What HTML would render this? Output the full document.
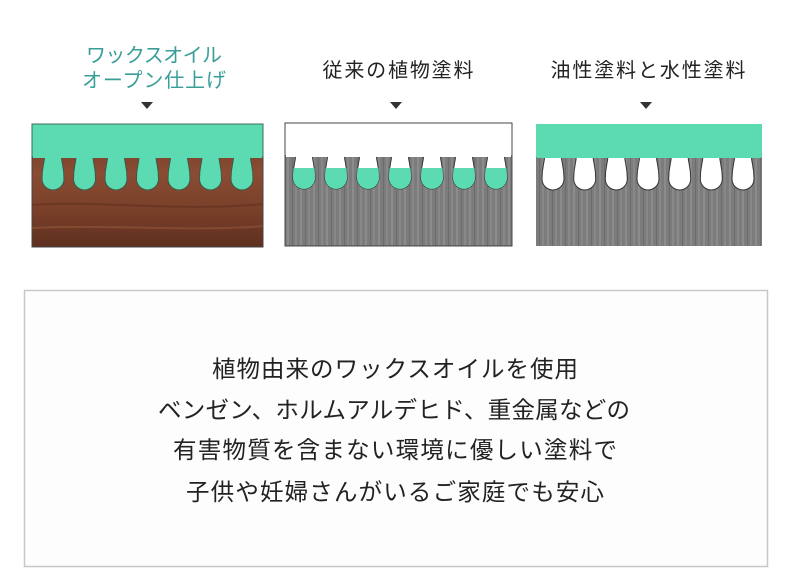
<!DOCTYPE html>
<html><head><meta charset="utf-8"><style>
html,body{margin:0;padding:0;background:#fff;}
svg{display:block;}
text{font-family:"Liberation Sans","Noto Sans CJK JP",sans-serif;}
</style></head><body>
<svg width="790" height="577" viewBox="0 0 790 577" xmlns="http://www.w3.org/2000/svg">
<defs>
<linearGradient id="brown" x1="0" y1="0" x2="0" y2="1">
<stop offset="0" stop-color="#6e3a26"/><stop offset="0.4" stop-color="#8a4c33"/><stop offset="0.7" stop-color="#7a4029"/><stop offset="1" stop-color="#5e2f1f"/>
</linearGradient>
<pattern id="grain" width="13" height="40" patternUnits="userSpaceOnUse">
<rect width="13" height="40" fill="#7c7c7c"/>
<rect x="1" width="2" height="40" fill="#8c8c8c"/>
<rect x="6" width="1" height="40" fill="#6c6c6c"/>
<rect x="9" width="2" height="40" fill="#888"/>
</pattern>
<path id="pore" d="M-8.5,157 C-8.5,163 -11,166 -11,179 A11,11 0 0 0 11,179 C11,166 8.5,163 8.5,157 Z"/>
<clipPath id="c2"><rect x="285" y="168" width="228" height="30"/></clipPath>
</defs>

<g font-size="20" text-anchor="middle">
<text x="154" y="62" fill="#3a9e98" textLength="136">ワックスオイル</text>
<text x="154" y="87" fill="#3a9e98" textLength="144">オープン仕上げ</text>
<text x="398" y="77" fill="#222" textLength="151">従来の植物塗料</text>
<text x="648" y="77" fill="#222" textLength="195">油性塗料と水性塗料</text>
</g>
<polygon points="141,102 153,102 147,109" fill="#333"/>
<polygon points="390,102 402,102 396,109" fill="#333"/>
<polygon points="640,102 652,102 646,109" fill="#333"/>

<!-- panel 1 -->
<rect x="32" y="124" width="231" height="123" fill="url(#brown)" stroke="#444" stroke-width="1"/>
<path d="M32,205 C90,200 180,212 263,204" stroke="#5a2c1c" stroke-width="2" fill="none" opacity="0.5"/>
<path d="M32,228 C100,224 200,232 263,226" stroke="#9a5a3d" stroke-width="2" fill="none" opacity="0.5"/>
<rect x="32" y="124" width="231" height="33" fill="#5cdbb2" stroke="#3d6b5c" stroke-width="1"/>
<g fill="#5cdbb2" stroke="#3d5a4a" stroke-width="1">
<use href="#pore" x="53"/><use href="#pore" x="84.5"/><use href="#pore" x="116"/><use href="#pore" x="147.5"/><use href="#pore" x="179"/><use href="#pore" x="210.5"/><use href="#pore" x="242"/>
</g>
<rect x="33" y="156" width="229" height="2" fill="#5cdbb2"/>

<!-- panel 2 -->
<rect x="285" y="156" width="227" height="90" fill="url(#grain)" stroke="#444"/>
<rect x="285" y="123" width="227" height="33" fill="#fff" stroke="#444"/>
<g fill="#fff" stroke="#333" stroke-width="1">
<use href="#pore" x="304" y="-1"/><use href="#pore" x="336" y="-1"/><use href="#pore" x="368" y="-1"/><use href="#pore" x="400" y="-1"/><use href="#pore" x="432" y="-1"/><use href="#pore" x="464" y="-1"/><use href="#pore" x="496" y="-1"/>
</g>
<g fill="#5cdbb2" clip-path="url(#c2)">
<use href="#pore" x="304" y="-1"/><use href="#pore" x="336" y="-1"/><use href="#pore" x="368" y="-1"/><use href="#pore" x="400" y="-1"/><use href="#pore" x="432" y="-1"/><use href="#pore" x="464" y="-1"/><use href="#pore" x="496" y="-1"/>
</g>
<rect x="286" y="155" width="225" height="2" fill="#fff"/>

<!-- panel 3 -->
<rect x="536" y="157" width="226" height="89" fill="url(#grain)"/>
<rect x="536" y="124" width="226" height="33" fill="#5cdbb2"/>
<g fill="#fff" stroke="#333" stroke-width="1">
<use href="#pore" x="553"/><use href="#pore" x="584.7"/><use href="#pore" x="616.3"/><use href="#pore" x="648"/><use href="#pore" x="679.7"/><use href="#pore" x="711.3"/><use href="#pore" x="743"/>
</g>
<rect x="537" y="156" width="224" height="2" fill="#5cdbb2"/>

<!-- text box -->
<rect x="24.5" y="290.5" width="743" height="276" fill="#fdfdfd" stroke="#c8c8c8" stroke-width="1.5"/>
<g font-size="23.5" fill="#222" text-anchor="middle">
<text x="395" y="377" textLength="366">植物由来のワックスオイルを使用</text>
<text x="394" y="418" textLength="472">ベンゼン、ホルムアルデヒド、重金属などの</text>
<text x="395" y="458" textLength="444">有害物質を含まない環境に優しい塗料で</text>
<text x="395" y="500" textLength="418">子供や妊婦さんがいるご家庭でも安心</text>
</g>
</svg>
</body></html>
